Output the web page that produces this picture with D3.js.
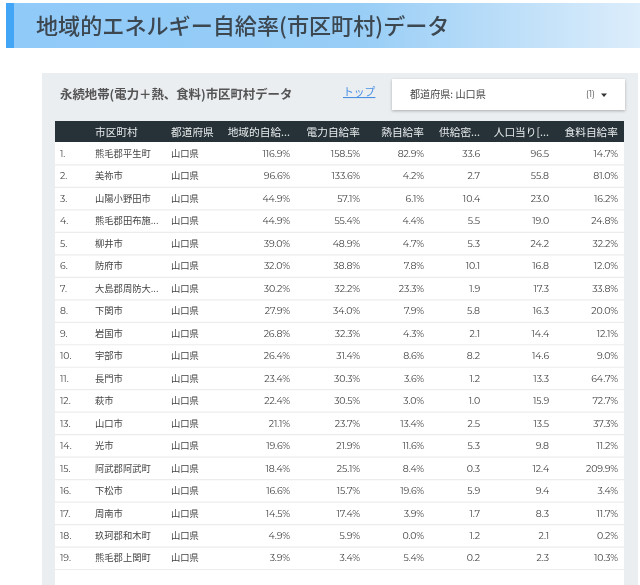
<!DOCTYPE html>
<html lang="ja"><head><meta charset="utf-8">
<script src="https://cdn.jsdelivr.net/npm/d3@7"></script>
<style>
html,body{margin:0;padding:0;background:#fff;overflow:hidden}
svg{display:block}
text{font-family:Montserrat,Inter,"Noto Sans CJK JP","Noto Sans",sans-serif}
.cjk{font-family:"Noto Sans CJK JP","Noto Sans",sans-serif}
</style></head><body>
<svg id="c" width="640" height="585"></svg>
<script>
const titleText = "地域的エネルギー自給率(市区町村)データ";
const subtitleText = "永続地帯(電力＋熱、食料)市区町村データ";
const linkText = "トップ";
const filterLabel = "都道府県: 山口県";
const filterCount = "(1)";
const headers = ["市区町村","都道府県","地域的自給...","電力自給率","熱自給率","供給密...","人口当り[...","食料自給率"];
const cities = ["熊毛郡平生町","美祢市","山陽小野田市","熊毛郡田布施...","柳井市","防府市","大島郡周防大...","下関市","岩国市","宇部市","長門市","萩市","山口市","光市","阿武郡阿武町","下松市","周南市","玖珂郡和木町","熊毛郡上関町"];
const prefecture = "山口県";
const regional = [116.9,96.6,44.9,44.9,39.0,32.0,30.2,27.9,26.8,26.4,23.4,22.4,21.1,19.6,18.4,16.6,14.5,4.9,3.9];
const power = [158.5,133.6,57.1,55.4,48.9,38.8,32.2,34.0,32.3,31.4,30.3,30.5,23.7,21.9,25.1,15.7,17.4,5.9,3.4];
const heat = [82.9,4.2,6.1,4.4,4.7,7.8,23.3,7.9,4.3,8.6,3.6,3.0,13.4,11.6,8.4,19.6,3.9,0.0,5.4];
const density = [33.6,2.7,10.4,5.5,5.3,10.1,1.9,5.8,2.1,8.2,1.2,1.0,2.5,5.3,0.3,5.9,1.7,1.2,0.2];
const perCapita = [96.5,55.8,23.0,19.0,24.2,16.8,17.3,16.3,14.4,14.6,13.3,15.9,13.5,9.8,12.4,9.4,8.3,2.1,2.3];
const food = [14.7,81.0,16.2,24.8,32.2,12.0,33.8,20.0,12.1,9.0,64.7,72.7,37.3,11.2,209.9,3.4,11.7,0.2,10.3];

const svg = d3.select("#c");
const defs = svg.append("defs");
const grad = defs.append("linearGradient").attr("id","hdr");
grad.append("stop").attr("offset","0").attr("stop-color","#90caf9");
grad.append("stop").attr("offset","0.55").attr("stop-color","#97cdf6");
grad.append("stop").attr("offset","1").attr("stop-color","#dcedfb");
const sh = defs.append("filter").attr("id","sh").attr("x","-5%").attr("y","-20%").attr("width","110%").attr("height","150%");
sh.append("feDropShadow").attr("dx",0).attr("dy",1).attr("stdDeviation",1.5).attr("flood-color","#000").attr("flood-opacity",0.28);
const soft = defs.append("filter").attr("id","soft");
soft.append("feGaussianBlur").attr("stdDeviation",0.28);

const root = svg.append("g").attr("filter","url(#soft)");
root.append("rect").attr("width",640).attr("height",585).attr("fill","#fff");

// Title band
root.append("rect").attr("x",6).attr("y",3).attr("width",634).attr("height",45).attr("fill","url(#hdr)");
root.append("rect").attr("x",6).attr("y",3).attr("width",8).attr("height",45).attr("fill","#42a5f5");
root.append("text").attr("class","cjk").attr("x",36).attr("y",34).attr("font-size",22.1).attr("font-weight",500).attr("fill","#3c4650").text(titleText);

// Panel
root.append("rect").attr("x",42).attr("y",73).attr("width",596).attr("height",512).attr("fill","#eaeef1");
root.append("text").attr("class","cjk").attr("x",60).attr("y",99).attr("font-size",12.4).attr("font-weight",700).attr("fill","#555").text(subtitleText);
root.append("text").attr("class","cjk").attr("x",343).attr("y",96).attr("font-size",10.8).attr("fill","#4a90e2").attr("text-decoration","underline").text(linkText);

// Filter card
root.append("rect").attr("x",392).attr("y",79).attr("width",233).attr("height",31).attr("fill","#fff").attr("filter","url(#sh)");
root.append("text").attr("class","cjk").attr("x",410).attr("y",98).attr("font-size",10.1).attr("fill","#444").text(filterLabel);
root.append("text").attr("x",586).attr("y",97).attr("font-size",8.6).attr("fill","#444").text(filterCount);
root.append("path").attr("d",d3.line()([[601,93.5],[607,93.5],[604,97]])+"Z").attr("fill","#333");

// Table
const rowIdx = d3.range(cities.length);
const y = d3.scaleBand().domain(rowIdx).range([142.5,569.5]);
const tableL = 55, tableR = 624;
root.append("rect").attr("x",tableL).attr("y",142).attr("width",tableR-tableL).attr("height",443).attr("fill","#fff");
root.append("rect").attr("x",tableL).attr("y",121).attr("width",tableR-tableL).attr("height",21).attr("fill","#263238");

const columns = [
  {key:"city",anchor:"start",x:95},
  {key:"pref",anchor:"start",x:171},
  {key:"regional",anchor:"end",x:290,vals:regional,pct:true},
  {key:"power",anchor:"end",x:360,vals:power,pct:true},
  {key:"heat",anchor:"end",x:424,vals:heat,pct:true},
  {key:"density",anchor:"end",x:480,vals:density},
  {key:"perCapita",anchor:"end",x:549,vals:perCapita},
  {key:"food",anchor:"end",x:618,vals:food,pct:true}
];
root.append("g").selectAll("text").data(headers).join("text")
  .attr("class","cjk").attr("x",(d,i)=>columns[i].x).attr("y",135.5)
  .attr("text-anchor",(d,i)=>columns[i].anchor)
  .attr("font-size",10.7).attr("fill","#e8ecee").text(d=>d);

const rows = root.append("g").selectAll("g").data(rowIdx).join("g")
  .attr("transform",d=>`translate(0,${y(d)+y.bandwidth()/2})`);
rows.append("line").attr("x1",tableL).attr("x2",tableR)
  .attr("y1",y.bandwidth()/2).attr("y2",y.bandwidth()/2)
  .attr("stroke","#ececec").attr("stroke-width",1.2);
rows.append("text").attr("x",60).attr("y",3.2).attr("font-size",9.3).attr("fill","#444").text(d=>(d+1)+".");
columns.forEach(c=>{
  const t = rows.append("text").attr("x",c.x).attr("y",3.2).attr("text-anchor",c.anchor)
    .attr("fill","#444");
  if(c.key==="city") t.attr("class","cjk").attr("font-size",9.3).text(d=>cities[d]);
  else if(c.key==="pref") t.attr("class","cjk").attr("font-size",9.3).text(prefecture);
  else t.attr("font-size",9.4).attr("letter-spacing",-0.1).text(d=>d3.format(".1f")(c.vals[d])+(c.pct?"%":""));
});
</script>
</body></html>
